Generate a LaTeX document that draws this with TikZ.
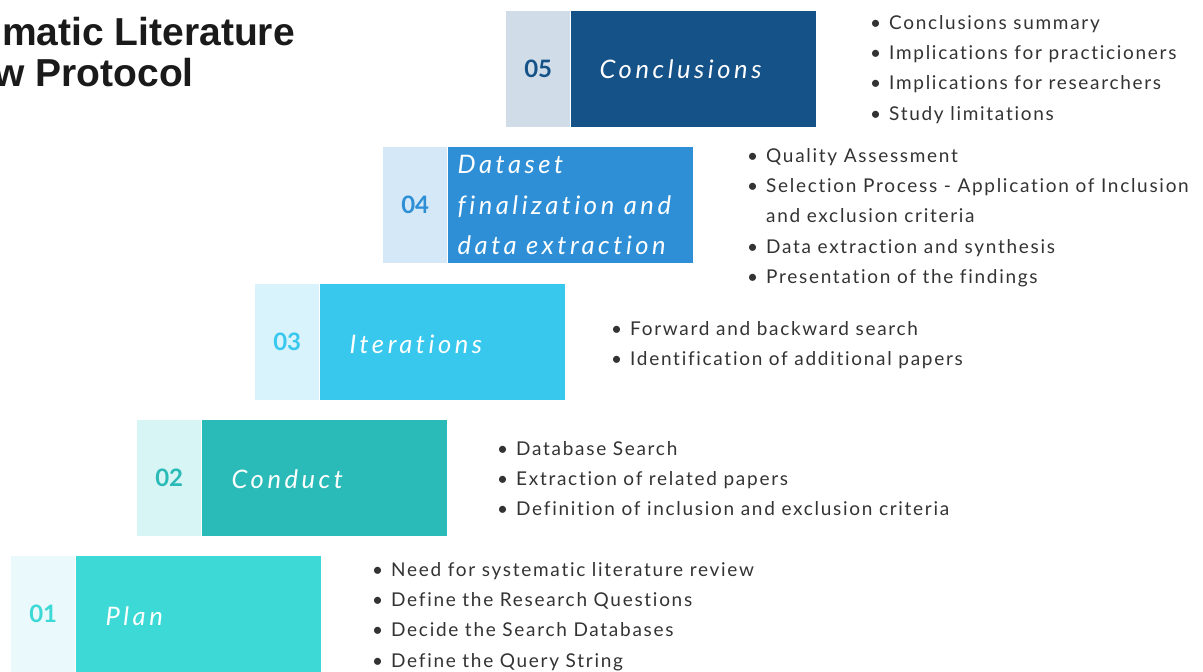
\documentclass[tikz,border=0pt]{standalone}
\usepackage{fontspec}
\setmainfont{Lato}
\newfontfamily\labelfont[LetterSpace=14,Ligatures=NoCommon]{Lato}
\newfontfamily\listfont[LetterSpace=9,Ligatures=NoCommon]{Lato}
\newfontfamily\headfont{Liberation Sans}
\usetikzlibrary{positioning}

% step colours: dark fill, pale number tab
\definecolor{c1}{HTML}{3DD9D6}
\definecolor{l1}{HTML}{EAF9FB}
\definecolor{c2}{HTML}{2ABAB7}
\definecolor{l2}{HTML}{D6F5F4}
\definecolor{c3}{HTML}{38C8EE}
\definecolor{l3}{HTML}{D8F3FB}
\definecolor{c4}{HTML}{2E8FD6}
\definecolor{l4}{HTML}{D4E8F7}
\definecolor{c5}{HTML}{155288}
\definecolor{l5}{HTML}{D0DCE8}
\definecolor{txt}{HTML}{333333}
\definecolor{ttl}{HTML}{1A1A1A}

\newcommand{\itm}{\makebox[19pt][l]{\textbullet}}
\newcommand{\hang}{\hspace*{19pt}}

\tikzset{
  numbox/.style={anchor=north west, minimum width=64pt, minimum height=116pt,
    inner sep=0pt, font=\bfseries\fontsize{24}{28}\selectfont},
  stepbox/.style={anchor=north west, minimum width=245pt, minimum height=116pt,
    inner sep=0pt},
  steplabel/.style={anchor=west, text=white, inner sep=0pt, align=left,
    font=\labelfont\itshape\fontsize{25.5}{40.5}\selectfont},
  items/.style={anchor=north west, inner sep=0pt, align=left, text=txt,
    font=\listfont\fontsize{19}{30.3}\selectfont},
  titletext/.style={anchor=base east, inner sep=0pt, text=ttl,
    font=\headfont\bfseries\fontsize{39}{44}\selectfont},
}

\begin{document}
\begin{tikzpicture}[x=1pt,y=-1pt]
\useasboundingbox[fill=white] (0,0) rectangle (1203,672);

% title, runs off the left edge
\node[titletext] (title1) at (295,45) {matic Literature};
\node[titletext] (title2) at (194,86) {w Protocol};

% the five steps
\node[numbox, fill=l1, text=c1] (n1) at (11,556) {01};
\node[stepbox, fill=c1] (s1) at (n1.north east) {};
\node[steplabel, right=30pt of s1.west, yshift=-2pt] (t1) {Plan};

\node[numbox, fill=l2, text=c2] (n2) at (137,420) {02};
\node[stepbox, fill=c2] (s2) at (n2.north east) {};
\node[steplabel, right=30pt of s2.west, yshift=-1pt] (t2) {Conduct};

\node[numbox, fill=l3, text=c3] (n3) at (255,284) {03};
\node[stepbox, fill=c3] (s3) at (n3.north east) {};
\node[steplabel, right=30pt of s3.west, yshift=-2pt] (t3) {Iterations};

\node[numbox, fill=l4, text=c4] (n4) at (383,147) {04};
\node[stepbox, fill=c4] (s4) at (n4.north east) {};
\node[steplabel, right=10pt of s4.west] (t4) {Dataset\\finalization and\\data extraction};

\node[numbox, fill=l5, text=c5] (n5) at (506,11) {05};
\node[stepbox, fill=c5] (s5) at (n5.north east) {};
\node[steplabel, right=29pt of s5.west] (t5) {Conclusions};

% bullet lists next to each step
\node[items] (b1) at (372,562) {\itm Need for systematic literature review\\
  \itm Define the Research Questions\\
  \itm Decide the Search Databases\\
  \itm Define the Query String};

\node[items] (b2) at (497,441) {\itm Database Search\\
  \itm Extraction of related papers\\
  \itm Definition of inclusion and exclusion criteria};

\node[items] (b3) at (611,321) {\itm Forward and backward search\\
  \itm Identification of additional papers};

\node[items] (b4) at (747,148) {\itm Quality Assessment\\
  \itm Selection Process - Application of Inclusion\\
  \hang and exclusion criteria\\
  \itm Data extraction and synthesis\\
  \itm Presentation of the findings};

\node[items] (b5) at (870,15) {\itm Conclusions summary\\
  \itm Implications for practicioners\\
  \itm Implications for researchers\\
  \itm Study limitations};
\end{tikzpicture}
\end{document}
